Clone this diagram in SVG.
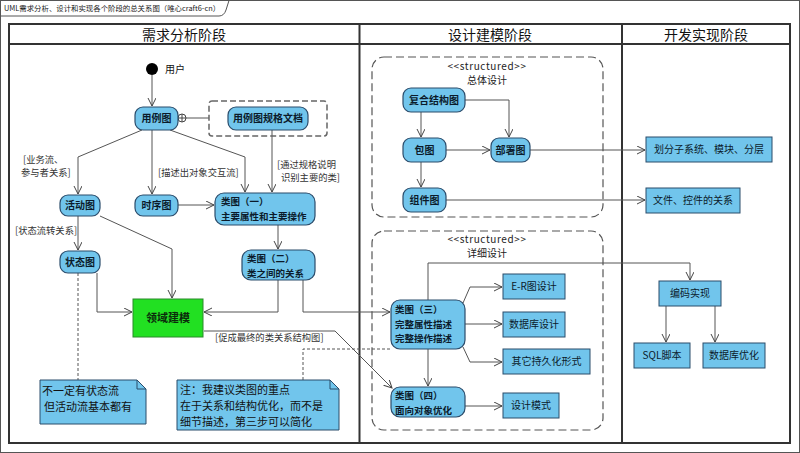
<svg xmlns="http://www.w3.org/2000/svg" width="800" height="453" viewBox="0 0 800 453">
<defs>
<marker id="arr" markerWidth="10" markerHeight="10" refX="8" refY="4" orient="auto" markerUnits="userSpaceOnUse">
<path d="M0,0 L8,4 L0,8" fill="none" stroke="#444" stroke-width="1"/>
</marker>
<style>
text{font-family:"Noto Sans CJK SC","Noto Sans",sans-serif;}
.frame{fill:none;stroke:#333;stroke-width:2;}
.hdr{font-size:14px;fill:#111;text-anchor:middle;}
.rn{fill:#71C5EC;stroke:#2B4C6B;stroke-width:1.2;}
.sn{fill:#71C5EC;stroke:#2B4C6B;stroke-width:1;}
.bt{font-size:10px;font-weight:bold;fill:#0B1B2B;}
.bt2{font-size:9.5px;font-weight:bold;fill:#0B1B2B;}
.rt{font-size:10px;fill:#0B1B2B;}
.c{text-anchor:middle;}
.lbl{font-size:9.3px;fill:#333;}
.nt{font-size:11px;fill:#111;}
.cn{fill:none;stroke:#555;stroke-width:1;}
.ar{marker-end:url(#arr);}
.dsh{fill:none;stroke:#555;stroke-width:1;stroke-dasharray:3,2;}
.grp{fill:none;stroke:#555;stroke-width:1.2;stroke-dasharray:8,4;}
.st{font-size:10px;fill:#222;text-anchor:middle;}
</style>
</defs>
<rect x="0" y="0" width="800" height="453" fill="#fff"/>
<rect x="0.5" y="0.5" width="799" height="452" fill="none" stroke="#555" stroke-width="1"/>
<path d="M0.5,16 H219 Q224,16 226,10 L229,0.5" fill="none" stroke="#555" stroke-width="1"/>
<text x="4" y="11" style="font-size:7.4px;fill:#222;">UML需求分析、设计和实现各个阶段的总关系图（唯心craft6-cn）</text>

<g id="swimlanes">
<rect class="frame" x="9" y="24" width="781" height="419"/>
<line class="frame" x1="9" y1="44" x2="790" y2="44"/>
<line class="frame" x1="359.5" y1="24" x2="359.5" y2="443"/>
<line class="frame" x1="622" y1="24" x2="622" y2="443"/>
<text class="hdr" x="184" y="40">需求分析阶段</text>
<text class="hdr" x="490" y="40">设计建模阶段</text>
<text class="hdr" x="706" y="40">开发实现阶段</text>
</g>

<g id="group-overall">
<rect class="grp" x="372" y="57" width="231" height="160" rx="12"/>
<text class="st" x="487" y="70" letter-spacing="0.6">&lt;&lt;structured&gt;&gt;</text>
<text class="st" x="487" y="84">总体设计</text>
</g>
<g id="group-detail">
<rect class="grp" x="372" y="231" width="231" height="199" rx="12"/>
<text class="st" x="487" y="243" letter-spacing="0.6">&lt;&lt;structured&gt;&gt;</text>
<text class="st" x="487" y="257">详细设计</text>
</g>

<g id="connectors">
<path class="cn ar" d="M152,75 V106"/>
<path class="cn ar" d="M142,130 L78,157 V194"/>
<path class="cn ar" d="M152,130 V194"/>
<path class="cn ar" d="M170,130 L245,157 V192"/>
<path class="cn ar" d="M272,130 V192"/>
<path class="cn ar" d="M178,205 H214"/>
<path class="cn ar" d="M78,215 V250"/>
<path class="cn ar" d="M100,216 L172,249 V298"/>
<path class="cn ar" d="M278,225 V249"/>
<path class="cn ar" d="M97,273 V312 H132"/>
<path class="cn ar" d="M278,280 V312 H204"/>
<path class="cn ar" d="M303,280 V312 H390"/>
<path class="cn ar" d="M204,331 H335 L392,388"/>
<text class="lbl" x="215" y="341">[促成最终的类关系结构图]</text>
<path class="dsh" d="M78,273 V380"/>
<path class="dsh" d="M303,380 V349 H392"/>
<path class="cn ar" d="M421,112 V137"/>
<path class="cn ar" d="M465,100 H509 V137"/>
<path class="cn ar" d="M446,150 H490"/>
<path class="cn ar" d="M421,162 V187"/>
<path class="cn ar" d="M530,150 H645"/>
<path class="cn ar" d="M446,200 H645"/>
<path class="cn ar" d="M428,300 V263 H690 V280"/>
<path class="cn ar" d="M463,303 L470,287 H502"/>
<path class="cn ar" d="M465,324 H502"/>
<path class="cn ar" d="M463,347 L470,362 H502"/>
<path class="cn ar" d="M428,349 V386"/>
<path class="cn ar" d="M465,406 H502"/>
<path class="cn ar" d="M666,306 V342"/>
<path class="cn ar" d="M715,306 V342"/>
<path class="cn" d="M186,118 H209"/>
<circle cx="182" cy="118" r="4" fill="#fff" stroke="#444" stroke-width="1"/>
<path d="M178,118 H186 M182,114 V122" stroke="#444" stroke-width="1"/>
<text class="lbl" x="23" y="163">[业务流、</text>
<text class="lbl" x="21" y="176">参与者关系]</text>
<text class="lbl" x="158" y="176">[描述出对象交互流]</text>
<text class="lbl" x="277" y="168">[通过规格说明</text>
<text class="lbl" x="281" y="181">识别主要的类]</text>
<text class="lbl" x="15" y="234">[状态流转关系]</text>
</g>

<g id="start">
<circle cx="152" cy="69" r="6" fill="#000"/>
<text x="165" y="73" style="font-size:10px;fill:#111;">用户</text>
</g>
<g id="usecase">
<rect class="rn" x="135" y="107" width="43" height="23" rx="8"/>
<text class="bt c" x="156.5" y="122">用例图</text>
</g>
<g id="usecase-doc">
<rect x="209" y="101" width="118" height="35" rx="3" fill="none" stroke="#666" stroke-width="1.5" stroke-dasharray="6,3"/>
<rect class="rn" x="228" y="107" width="80" height="23" rx="8"/>
<text class="bt c" x="268" y="122">用例图规格文档</text>
</g>
<g id="activity">
<rect class="rn" x="60" y="195" width="40" height="21" rx="8"/>
<text class="bt c" x="80" y="209">活动图</text>
</g>
<g id="sequence">
<rect class="rn" x="135" y="195" width="43" height="21" rx="8"/>
<text class="bt c" x="156.5" y="209">时序图</text>
</g>
<g id="class1">
<rect class="rn" x="215" y="193" width="100" height="32" rx="9"/>
<text class="bt2" x="221" y="205">类图（一）</text>
<text class="bt2" x="221" y="219.5">主要属性和主要操作</text>
</g>
<g id="state">
<rect class="rn" x="60" y="251" width="40" height="22" rx="8"/>
<text class="bt c" x="80" y="266">状态图</text>
</g>
<g id="class2">
<rect class="rn" x="242" y="250" width="73" height="30" rx="9"/>
<text class="bt2" x="247" y="262">类图（二）</text>
<text class="bt2" x="247" y="276.5">类之间的关系</text>
</g>
<g id="domain">
<rect x="133" y="299" width="70" height="38" fill="#22E022" stroke="#2A8A2A" stroke-width="1"/>
<text x="168" y="322" style="font-size:11px;font-weight:bold;fill:#0B2B0B;text-anchor:middle;">领域建模</text>
</g>
<g id="note1">
<path class="sn" d="M40,380 H137 L146,389 V424 H40 Z"/>
<path d="M137,380 V389 H146" fill="none" stroke="#2B4C6B" stroke-width="1"/>
<text class="nt" x="42" y="395">不一定有状态流</text>
<text class="nt" x="44" y="411">但活动流基本都有</text>
</g>
<g id="note2">
<path class="sn" d="M177,380 H330 L339,389 V430 H177 Z"/>
<path d="M330,380 V389 H339" fill="none" stroke="#2B4C6B" stroke-width="1"/>
<text class="nt" x="180" y="394">注：我建议类图的重点</text>
<text class="nt" x="180" y="410">在于关系和结构优化，而不是</text>
<text class="nt" x="180" y="426">细节描述，第三步可以简化</text>
</g>
<g id="composite">
<rect class="rn" x="403" y="88" width="62" height="24" rx="8"/>
<text class="bt c" x="434" y="104">复合结构图</text>
</g>
<g id="package">
<rect class="rn" x="403" y="138" width="43" height="24" rx="8"/>
<text class="bt c" x="424.5" y="154">包图</text>
</g>
<g id="deploy">
<rect class="rn" x="491" y="138" width="39" height="24" rx="8"/>
<text class="bt c" x="510.5" y="154">部署图</text>
</g>
<g id="component">
<rect class="rn" x="403" y="188" width="43" height="24" rx="8"/>
<text class="bt c" x="424.5" y="204">组件图</text>
</g>
<g id="subsystem">
<rect class="sn" x="646" y="137" width="126" height="25"/>
<text class="rt c" x="709" y="153">划分子系统、模块、分层</text>
</g>
<g id="files">
<rect class="sn" x="646" y="188" width="94" height="25"/>
<text class="rt c" x="693" y="204">文件、控件的关系</text>
</g>
<g id="class3">
<rect class="rn" x="391" y="300" width="74" height="49" rx="9"/>
<text class="bt2" x="395" y="313">类图（三）</text>
<text class="bt2" x="395" y="327.5">完整属性描述</text>
<text class="bt2" x="395" y="342">完整操作描述</text>
</g>
<g id="class4">
<rect class="rn" x="391" y="387" width="74" height="30" rx="9"/>
<text class="bt2" x="395" y="399">类图（四）</text>
<text class="bt2" x="395" y="413.5">面向对象优化</text>
</g>
<g id="er">
<rect class="sn" x="503" y="274" width="62" height="25"/>
<text class="rt c" x="534" y="290">E-R图设计</text>
</g>
<g id="db">
<rect class="sn" x="503" y="312" width="62" height="25"/>
<text class="rt c" x="534" y="328">数据库设计</text>
</g>
<g id="persist">
<rect class="sn" x="503" y="349" width="87" height="25"/>
<text class="rt c" x="546.5" y="365">其它持久化形式</text>
</g>
<g id="pattern">
<rect class="sn" x="503" y="393" width="56" height="25"/>
<text class="rt c" x="531" y="409">设计模式</text>
</g>
<g id="coding">
<rect class="sn" x="659" y="281" width="62" height="25"/>
<text class="rt c" x="690" y="297">编码实现</text>
</g>
<g id="sql">
<rect class="sn" x="634" y="343" width="56" height="25"/>
<text class="rt c" x="662" y="359">SQL脚本</text>
</g>
<g id="dbopt">
<rect class="sn" x="703" y="343" width="62" height="25"/>
<text class="rt c" x="734" y="359">数据库优化</text>
</g>
</svg>
